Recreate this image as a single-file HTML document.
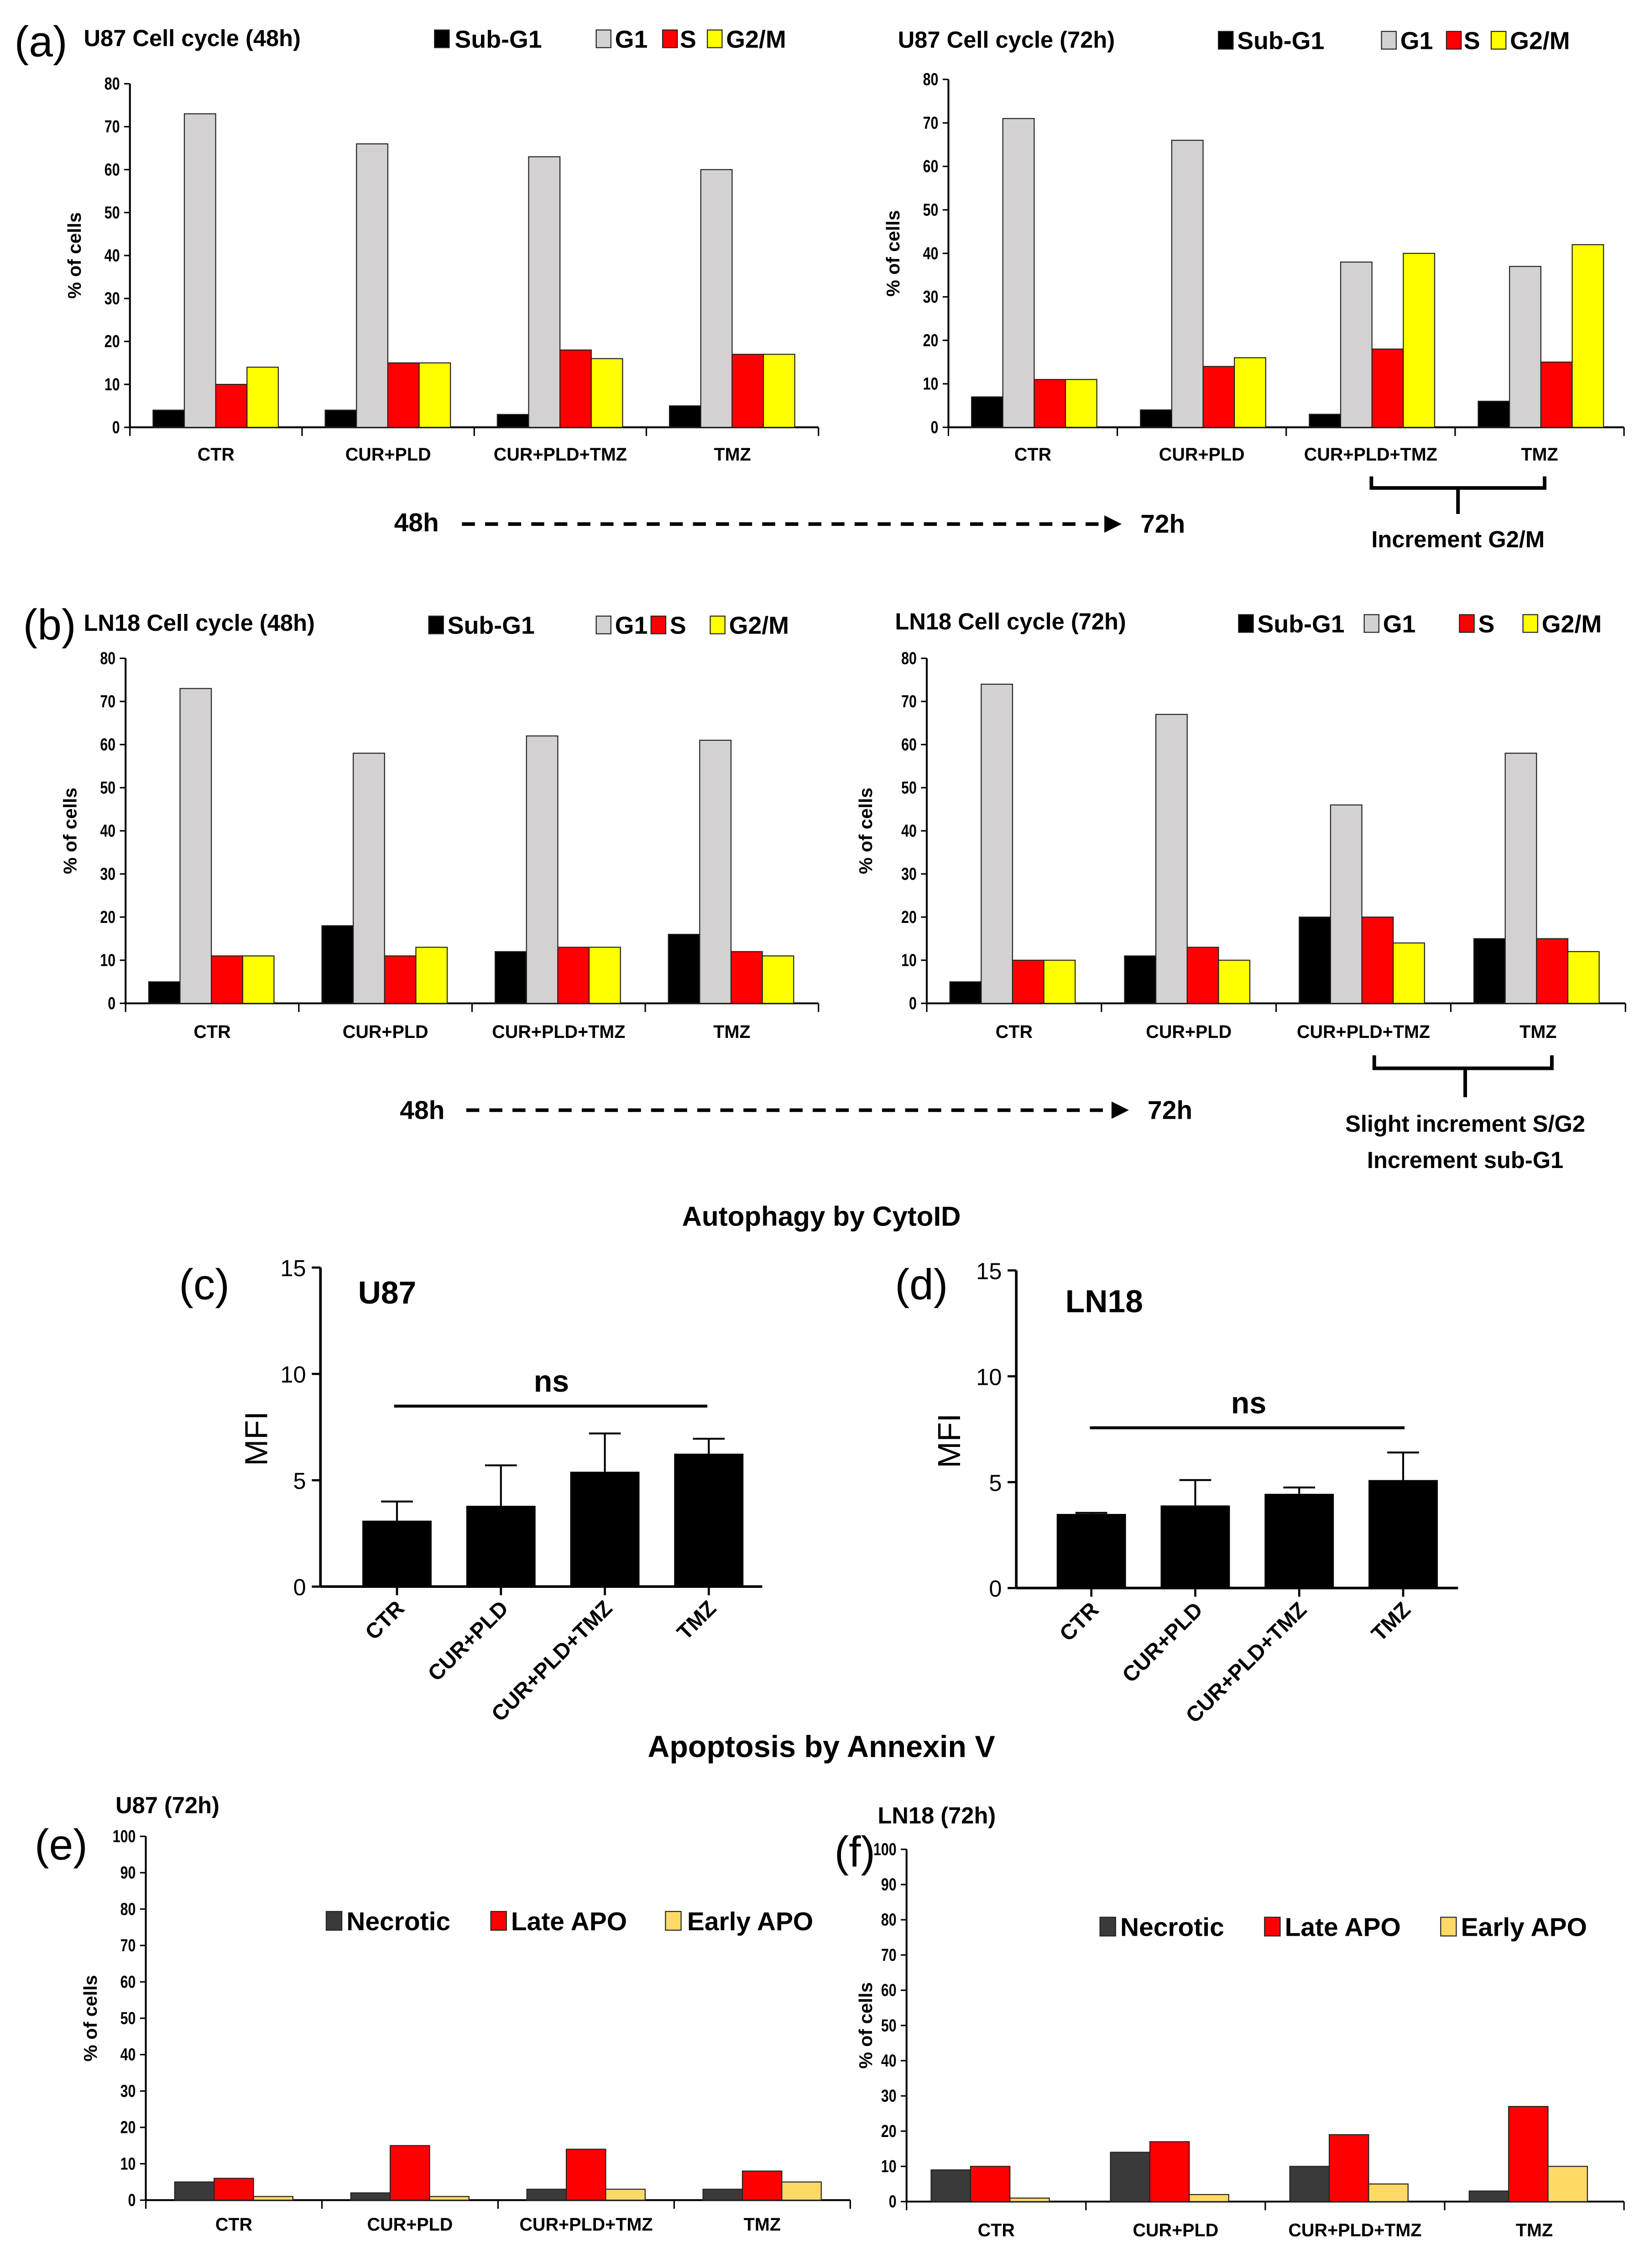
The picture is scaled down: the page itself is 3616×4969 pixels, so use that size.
<!DOCTYPE html>
<html><head><meta charset="utf-8"><style>
html,body{margin:0;padding:0;background:#fff}
svg{display:block}
text{font-family:"Liberation Sans",sans-serif}
</style></head><body>
<svg id="fig" xmlns="http://www.w3.org/2000/svg" width="3616" height="4969" viewBox="0 0 1143 1571" preserveAspectRatio="none"></svg>
<script>
const cats=["CTR","CUR+PLD","CUR+PLD+TMZ","TMZ"];
const cycleSeries=["Sub-G1","G1","S","G2/M"];
const cycleColors=["#000000","#d4d1d2","#ff0000","#ffff00"];
const u87_48_sub=[4,4,3,5], u87_48_g1=[73,66,63,60], u87_48_s=[10,15,18,17], u87_48_g2=[14,15,16,17];
const u87_72_sub=[7,4,3,6], u87_72_g1=[71,66,38,37], u87_72_s=[11,14,18,15], u87_72_g2=[11,16,40,42];
const ln_48_sub=[5,18,12,16], ln_48_g1=[73,58,62,61], ln_48_s=[11,11,13,12], ln_48_g2=[11,13,13,11];
const ln_72_sub=[5,11,20,15], ln_72_g1=[74,67,46,58], ln_72_s=[10,13,20,15], ln_72_g2=[10,10,14,12];
const cycleTicks=[0,10,20,30,40,50,60,70,80];
const mfiU87=[3.1,3.8,5.4,6.25], mfiU87Err=[0.9,1.9,1.8,0.7];
const mfiLN=[3.5,3.9,4.45,5.1], mfiLNErr=[0.05,1.2,0.3,1.3];
const mfiTicks=[0,5,10,15];
const apoSeries=["Necrotic","Late APO","Early APO"];
const apoColors=["#3a3a3a","#ff0000","#ffd966"];
const u87_nec=[5,2,3,3], u87_late=[6,15,14,8], u87_early=[1,1,3,5];
const ln_nec=[9,14,10,3], ln_late=[10,17,19,27], ln_early=[1,2,5,10];
const apoTicks=[0,10,20,30,40,50,60,70,80,90,100];

const NS="http://www.w3.org/2000/svg";
const svg=document.getElementById('fig');
function el(tag,attrs,parent,txt){const e=document.createElementNS(NS,tag);for(const k in attrs)e.setAttribute(k,attrs[k]);if(txt!==undefined)e.textContent=txt;(parent||svg).appendChild(e);return e;}
function txt(x,y,s,size,opts,name){const t=el('text',Object.assign({x:x,y:y,'font-size':size,'font-weight':'bold'},opts||{}),svg,s);

return t;}

function grouped(cfg){
 const g=el('g',{});
 
 
 const ax=cfg.x0, ax1=cfg.x1, yb=cfg.yb, yt=cfg.yt, max=cfg.max;
 const ys=v=>yb-(v/max)*(yb-yt);
 const gw=(ax1-ax)/cats.length;
 el('line',{x1:ax,y1:yt,x2:ax,y2:yb,stroke:'#000','stroke-width':1.3},g);
 el('line',{x1:ax,y1:yb,x2:ax1,y2:yb,stroke:'#000','stroke-width':1.3},g);
 cfg.ticks.forEach(t=>{el('line',{x1:ax-4,y1:ys(t),x2:ax,y2:ys(t),stroke:'#000','stroke-width':1},g);
  const l=el('text',{x:0,y:0,'font-size':12,'font-weight':'bold','text-anchor':'end',transform:`translate(${ax-7},${ys(t)+4}) scale(0.8,1)`},g,t);
  
  });
 for(let i=0;i<=cats.length;i++) el('line',{x1:ax+i*gw,y1:yb,x2:ax+i*gw,y2:yb+6,stroke:'#000','stroke-width':1},g);
 cats.forEach((c,i)=>{
  const l=el('text',{x:ax+(i+0.5)*gw,y:cfg.ly,'font-size':12.5,'font-weight':'bold','text-anchor':'middle'},g,c);
  
  
  cfg.series.forEach((arr,s)=>{
   const x=ax+i*gw+cfg.off+s*cfg.bw;
   const r=el('rect',{x:x,y:ys(arr[i]),width:cfg.bw,height:yb-ys(arr[i]),fill:cfg.colors[s],stroke:'#222','stroke-width':0.7},g);
   
   
  });
 });
 const yl=el('text',{x:0,y:0,'font-size':13,'font-weight':'bold','text-anchor':'middle',transform:`translate(${cfg.ytx},${(yt+yb)/2}) rotate(-90)`},g,'% of cells');
 
 
}
function legend(items,colors,y,size,name){
 const g=el('g',{});
 
 
 items.forEach(it=>{
  el('rect',{x:it.bx,y:y-size*0.72,width:size*0.6,height:size*0.72,fill:colors[it.i],stroke:'#222','stroke-width':0.7},g);
  const t=el('text',{x:it.tx,y:y,'font-size':size,'font-weight':'bold'},g,it.s);
  
  
 });
}
const serif={'font-family':'Liberation Serif, serif','font-weight':'normal'};

// (a)
txt(10,39,'(a)',30,serif,'panel-a-label');
txt(58,32,'U87 Cell cycle (48h)',16,{},'chart-title');
txt(622,33,'U87 Cell cycle (72h)',16,{},'chart-title');
legend([{bx:301,tx:315,s:'Sub-G1',i:0},{bx:413,tx:426,s:'G1',i:1},{bx:459,tx:471,s:'S',i:2},{bx:490,tx:503,s:'G2/M',i:3}],cycleColors,33,17,'legend-a-left');
legend([{bx:844,tx:857,s:'Sub-G1',i:0},{bx:957,tx:970,s:'G1',i:1},{bx:1002,tx:1014,s:'S',i:2},{bx:1033,tx:1046,s:'G2/M',i:3}],cycleColors,34,17,'legend-a-right');
grouped({name:'chart-u87-48h',x0:90,x1:567,yb:296,yt:58,max:80,ticks:cycleTicks,ly:319,off:16,bw:21.7,series:[u87_48_sub,u87_48_g1,u87_48_s,u87_48_g2],colors:cycleColors,names:cycleSeries,ytx:56});
grouped({name:'chart-u87-72h',x0:657,x1:1125,yb:296,yt:55,max:80,ticks:cycleTicks,ly:319,off:16,bw:21.7,series:[u87_72_sub,u87_72_g1,u87_72_s,u87_72_g2],colors:cycleColors,names:cycleSeries,ytx:623});
txt(273,368,'48h',18,{},'arrow-label-48h');
el('line',{x1:320,y1:363,x2:765,y2:363,stroke:'#000','stroke-width':2.5,'stroke-dasharray':'9,7'});
el('path',{d:'M765,357 L777,363 L765,369 Z',fill:'#000'});
txt(790,369,'72h',18,{},'arrow-label-72h');
el('path',{d:'M950,330 L950,338 L1070,338 L1070,330 M1010,338 L1010,356',stroke:'#000','stroke-width':2.5,fill:'none'});
txt(1010,379,'Increment G2/M',16,{'text-anchor':'middle'},'annotation');

// (b)
txt(16,443,'(b)',30,serif,'panel-b-label');
txt(58,437,'LN18 Cell cycle (48h)',16,{},'chart-title');
txt(620,436,'LN18 Cell cycle (72h)',16,{},'chart-title');
legend([{bx:297,tx:310,s:'Sub-G1',i:0},{bx:413,tx:426,s:'G1',i:1},{bx:451,tx:464,s:'S',i:2},{bx:492,tx:505,s:'G2/M',i:3}],cycleColors,439,17,'legend-b-left');
legend([{bx:858,tx:871,s:'Sub-G1',i:0},{bx:945,tx:958,s:'G1',i:1},{bx:1011,tx:1024,s:'S',i:2},{bx:1055,tx:1068,s:'G2/M',i:3}],cycleColors,438,17,'legend-b-right');
grouped({name:'chart-ln18-48h',x0:87,x1:567,yb:695,yt:456,max:80,ticks:cycleTicks,ly:719,off:16,bw:21.7,series:[ln_48_sub,ln_48_g1,ln_48_s,ln_48_g2],colors:cycleColors,names:cycleSeries,ytx:53});
grouped({name:'chart-ln18-72h',x0:642,x1:1126,yb:695,yt:456,max:80,ticks:cycleTicks,ly:719,off:16,bw:21.7,series:[ln_72_sub,ln_72_g1,ln_72_s,ln_72_g2],colors:cycleColors,names:cycleSeries,ytx:604});
txt(277,775,'48h',18,{},'arrow-label-48h');
el('line',{x1:323,y1:769,x2:770,y2:769,stroke:'#000','stroke-width':2.5,'stroke-dasharray':'9,7'});
el('path',{d:'M770,763 L782,769 L770,775 Z',fill:'#000'});
txt(795,775,'72h',18,{},'arrow-label-72h');
el('path',{d:'M952,731 L952,740 L1075,740 L1075,731 M1015,740 L1015,760',stroke:'#000','stroke-width':2.5,fill:'none'});
txt(1015,784,'Slight increment S/G2',16,{'text-anchor':'middle'},'annotation');
txt(1015,809,'Increment sub-G1',16,{'text-anchor':'middle'},'annotation');

// Autophagy
txt(569,849,'Autophagy by CytoID',19,{'text-anchor':'middle'},'section-title');
function mfi(cfg){
 const g=el('g',{});
 
 
 const ys=v=>cfg.yb-(v/15)*(cfg.yb-cfg.yt);
 el('line',{x1:cfg.x0,y1:cfg.yt,x2:cfg.x0,y2:cfg.yb,stroke:'#000','stroke-width':1.8},g);
 el('line',{x1:cfg.x0,y1:cfg.yb,x2:cfg.x1,y2:cfg.yb,stroke:'#000','stroke-width':1.8},g);
 mfiTicks.forEach(t=>{el('line',{x1:cfg.x0-6,y1:ys(t),x2:cfg.x0,y2:ys(t),stroke:'#000','stroke-width':1.5},g);
  const l=el('text',{x:cfg.x0-10,y:ys(t)+6,'font-size':16,'text-anchor':'end'},g,t);
  
  });
 cats.forEach((c,i)=>{
  const cx=cfg.c0+i*72;
  const top=ys(cfg.vals[i]);
  const e=el('path',{d:`M${cx},${top} L${cx},${ys(cfg.vals[i]+cfg.errs[i])} M${cx-11},${ys(cfg.vals[i]+cfg.errs[i])} L${cx+11},${ys(cfg.vals[i]+cfg.errs[i])}`,stroke:'#000','stroke-width':1.3,fill:'none'},g);
  
  
  const r=el('rect',{x:cx-24,y:top,width:48,height:cfg.yb-top,fill:'#000'},g);
  
  
  el('line',{x1:cx,y1:cfg.yb,x2:cx,y2:cfg.yb+6,stroke:'#000','stroke-width':1.5},g);
  const l=el('text',{x:0,y:0,'font-size':15,'font-weight':'bold','text-anchor':'end',transform:`translate(${cx+6},${cfg.yb+16}) rotate(-45)`},g,c);
  
  
 });
 const yl=el('text',{x:0,y:0,'font-size':22,'text-anchor':'middle',transform:`translate(${cfg.ytx},${(cfg.yt+cfg.yb)/2+8}) rotate(-90)`},g,'MFI');
 
 
}
txt(124,900,'(c)',30,serif,'panel-c-label');
txt(248,903,'U87',22,{},'chart-title');
mfi({name:'chart-mfi-u87',x0:222,x1:528,yt:878,yb:1099,c0:275,vals:mfiU87,errs:mfiU87Err,ytx:185});
el('line',{x1:273,y1:974,x2:490,y2:974,stroke:'#000','stroke-width':2});
txt(382,964,'ns',21,{'text-anchor':'middle'},'significance-label');
txt(620,900,'(d)',30,serif,'panel-d-label');
txt(738,909,'LN18',22,{},'chart-title');
mfi({name:'chart-mfi-ln18',x0:704,x1:1010,yt:880,yb:1100,c0:756,vals:mfiLN,errs:mfiLNErr,ytx:665});
el('line',{x1:755,y1:989,x2:973,y2:989,stroke:'#000','stroke-width':2});
txt(865,979,'ns',21,{'text-anchor':'middle'},'significance-label');

// Apoptosis
txt(569,1217,'Apoptosis by Annexin V',21,{'text-anchor':'middle'},'section-title');
txt(24,1288,'(e)',30,serif,'panel-e-label');
txt(80,1256,'U87 (72h)',16,{},'chart-title');
grouped({name:'chart-apo-u87',x0:101,x1:589,yb:1524,yt:1272,max:100,ticks:apoTicks,ly:1545,off:20,bw:27.3,series:[u87_nec,u87_late,u87_early],colors:apoColors,names:apoSeries,ytx:67});
legend([{bx:226,tx:240,s:'Necrotic',i:0},{bx:340,tx:354,s:'Late APO',i:1},{bx:461,tx:476,s:'Early APO',i:2}],apoColors,1337,18,'legend-apo-u87');
txt(578,1293,'(f)',30,serif,'panel-f-label');
txt(608,1263,'LN18 (72h)',16,{},'chart-title');
grouped({name:'chart-apo-ln18',x0:628,x1:1125,yb:1525,yt:1281,max:100,ticks:apoTicks,ly:1549,off:17,bw:27.3,series:[ln_nec,ln_late,ln_early],colors:apoColors,names:apoSeries,ytx:604});
legend([{bx:762,tx:776,s:'Necrotic',i:0},{bx:876,tx:890,s:'Late APO',i:1},{bx:998,tx:1012,s:'Early APO',i:2}],apoColors,1341,18,'legend-apo-ln18');
</script>
</body></html>
